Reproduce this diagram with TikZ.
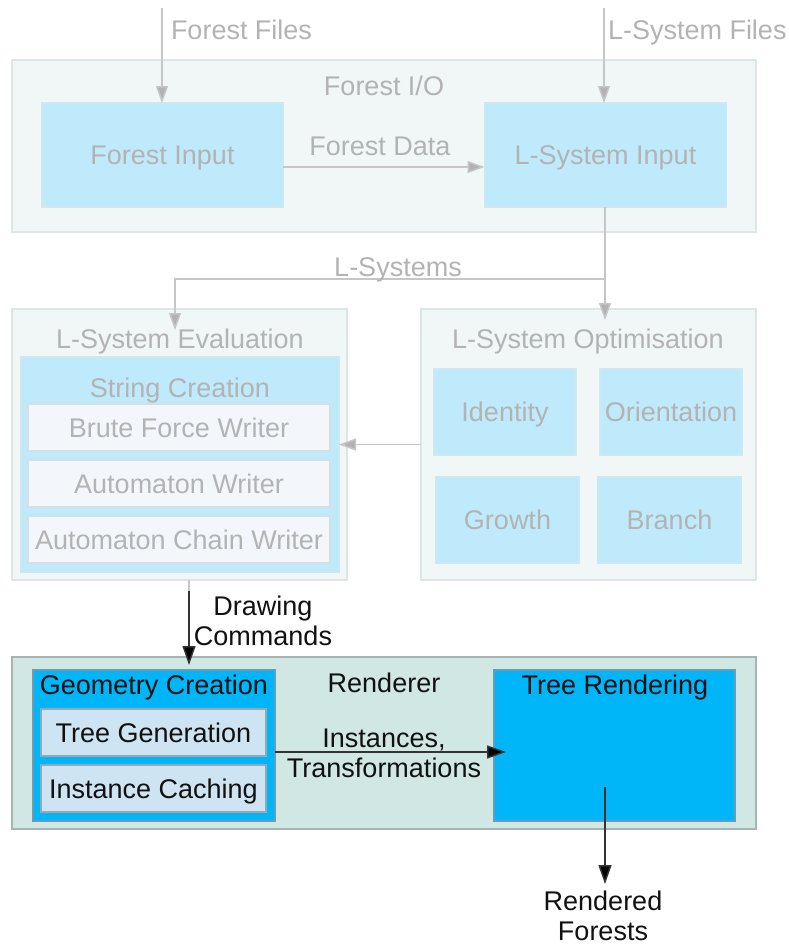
\documentclass[tikz,border=0pt]{standalone}
\usepackage{fontspec}
\setmainfont{Liberation Sans}
\usetikzlibrary{arrows.meta}
\definecolor{fOuterFill}{HTML}{F1F6F6}
\definecolor{fOuterLine}{HTML}{E0E6E6}
\definecolor{fBlueFill}{HTML}{BFEAFB}
\definecolor{fBlueLine}{HTML}{CDE8F2}
\definecolor{fWriterFill}{HTML}{F3F7FB}
\definecolor{fWriterLine}{HTML}{D8DFE4}
\definecolor{fText}{HTML}{B3B3B3}
\definecolor{fArrow}{HTML}{C6C6C6}
\definecolor{rFill}{HTML}{D0E7E4}
\definecolor{rLine}{HTML}{A6B4B2}
\definecolor{gFill}{HTML}{00B6F8}
\definecolor{gLine}{HTML}{6A9DB5}
\definecolor{tFill}{HTML}{CFE4F3}
\definecolor{tLine}{HTML}{9AA7AE}
\definecolor{dText}{HTML}{111111}
\definecolor{dArrow}{HTML}{333333}
\begin{document}
\begin{tikzpicture}[x=1pt,y=-1pt,
  every node/.style={font=\fontsize{27}{30}\selectfont, inner sep=0pt, outer sep=0pt},
  boxbase/.style={draw, rectangle, line width=1.4pt, text height=19.3pt, text depth=0pt},
  fouter/.style={boxbase, fill=fOuterFill, draw=fOuterLine},
  fblue/.style={boxbase, fill=fBlueFill, draw=fBlueLine, text=fText},
  fwriter/.style={boxbase, fill=fWriterFill, draw=fWriterLine, text=fText},
  rbox/.style={boxbase, fill=rFill, draw=rLine},
  gbox/.style={boxbase, fill=gFill, draw=gLine},
  tbox/.style={boxbase, fill=tFill, draw=tLine, text=dText},
  ftitle/.style={text=fText, text height=19.3pt, text depth=0pt},
  dtitle/.style={text=dText, text height=19.3pt, text depth=0pt},
  flabel/.style={text=fText, align=center},
  dlabel/.style={text=dText, align=center},
  farrow/.style={draw=fArrow, line width=1.5pt, -{Triangle[length=17pt,width=12pt,fill=fArrow!90!black]}},
  fline/.style={draw=fArrow, line width=1.5pt},
  darrow/.style={draw=dArrow, line width=1.5pt, -{Triangle[length=19pt,width=13pt,fill=black]}}
]
\useasboundingbox (0,0) rectangle (789,945);

% ---- Forest I/O ----
\node[fouter, minimum width=744pt, minimum height=172pt] (fio) at (384,146) {};
\node[ftitle] (fiot) at (384,85.5) {Forest I/O};
\node[fblue, minimum width=241pt, minimum height=104pt] (fin) at (162.5,155) {Forest Input};
\node[fblue, minimum width=242pt, minimum height=104pt] (lsin) at (605.5,155) {L-System Input};

% ---- L-System Evaluation ----
\node[fouter, minimum width=335pt, minimum height=271pt] (eval) at (179.5,444.5) {};
\node[ftitle] (evalt) at (180,339) {L-System Evaluation};
\node[fblue, minimum width=318pt, minimum height=215pt] (sc) at (180,464.5) {};
\node[ftitle] (sct) at (180,387.5) {String Creation};
\node[fwriter, minimum width=302pt, minimum height=47pt] (bfw) at (179,427.5) {Brute Force Writer};
\node[fwriter, minimum width=302pt, minimum height=47pt] (aw) at (179,483.5) {Automaton Writer};
\node[fwriter, minimum width=302pt, minimum height=47pt] (acw) at (179,539.5) {Automaton Chain Writer};

% ---- L-System Optimisation ----
\node[fouter, minimum width=335pt, minimum height=271pt] (opt) at (588.5,444.5) {};
\node[ftitle] (optt) at (588,339) {L-System Optimisation};
\node[fblue, minimum width=142pt, minimum height=86pt] (idn) at (505,412) {Identity};
\node[fblue, minimum width=142pt, minimum height=86pt] (ori) at (671,412) {Orientation};
\node[fblue, minimum width=143pt, minimum height=86pt] (gro) at (507.5,520) {Growth};
\node[fblue, minimum width=143pt, minimum height=86pt] (bra) at (669.5,520) {Branch};

% ---- Renderer ----
\node[rbox, minimum width=744pt, minimum height=172pt] (ren) at (384,743) {};
\node[dtitle] (rent) at (384,683) {Renderer};
\node[gbox, minimum width=242pt, minimum height=151pt] (geo) at (154,745.5) {};
\node[dtitle] (geot) at (154,685) {Geometry Creation};
\node[tbox, minimum width=225pt, minimum height=47pt] (tg) at (153.5,732.5) {Tree Generation};
\node[tbox, minimum width=225pt, minimum height=47pt] (ic) at (153.5,788.5) {Instance Caching};
\node[gbox, minimum width=241pt, minimum height=151pt] (tr) at (614.5,745.5) {};
\node[dtitle] (trt) at (615,685) {Tree Rendering};

% ---- faded connectors ----
\coordinate (ffs) at (162,8);
\coordinate (lfs) at (604,8);
\draw[farrow] (ffs) -- (ffs |- fin.north);
\node[ftitle, anchor=west] (fft) at (171,30) {Forest Files};
\draw[farrow] (lfs) -- (lfs |- lsin.north);
\node[ftitle, anchor=west] (lft) at (608,30) {L-System Files};

\draw[farrow] ([yshift=-12pt]fin.east) -- ([yshift=-12pt]lsin.west);
\node[ftitle] (fdt) at (380,146) {Forest Data};

\coordinate (lsj) at (605,279);
\coordinate (optin) at (605,320);
\coordinate (evcorner) at (175,279);
\coordinate (evin) at (175,330);
\draw[farrow] (lsin.south -| lsj) -- (optin);
\draw[farrow] (lsj) -- (evcorner) -- (evin);
\node[ftitle] (lst) at (398,266.5) {L-Systems};

\draw[farrow] (opt.west) -- (opt.west -| sc.east);

% ---- dark connectors ----
\coordinate (dcs) at (189,580);
\coordinate (dcm) at (189,591);
\coordinate (dce) at (189,665);
\draw[fline] (dcs) -- (dcm);
\draw[darrow] (dcm) -- (dce);
\node[dlabel] (dct) at (263,620.5) {Drawing\\Commands};

\coordinate (ite) at (506,752);
\draw[darrow] (geo.east |- ite) -- (ite);
\node[dlabel] (itt) at (384,753) {Instances,\\Transformations};

\coordinate (rfs) at (605,787);
\coordinate (rfe) at (605,884);
\draw[darrow] (rfs) -- (rfe);
\node[dlabel] (rft) at (603,915.5) {Rendered\\Forests};
\end{tikzpicture}
\end{document}
